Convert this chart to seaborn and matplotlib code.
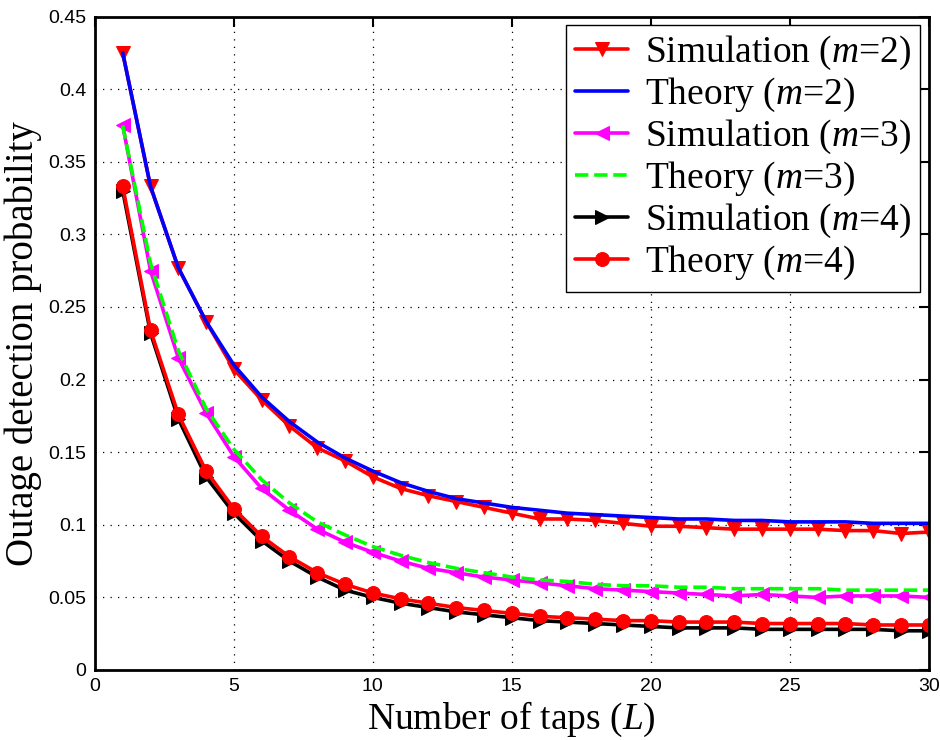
import numpy as np
import pandas as pd
import matplotlib
matplotlib.use("Agg")
import matplotlib.pyplot as plt
import seaborn as sns

L = list(range(1, 31))

sim_m2 = [0.425, 0.333, 0.277, 0.240, 0.207, 0.186, 0.168, 0.153, 0.144, 0.133,
          0.125, 0.120, 0.116, 0.112, 0.108, 0.104, 0.104, 0.103, 0.101, 0.099,
          0.099, 0.098, 0.097, 0.097, 0.097, 0.097, 0.096, 0.096, 0.094, 0.095]
theory_m2 = [0.425, 0.333, 0.277, 0.240, 0.210, 0.188, 0.171, 0.157, 0.146, 0.137,
             0.129, 0.123, 0.118, 0.115, 0.112, 0.110, 0.108, 0.107, 0.106, 0.105,
             0.104, 0.104, 0.103, 0.103, 0.102, 0.102, 0.102, 0.101, 0.101, 0.101]
sim_m3 = [0.375, 0.275, 0.215, 0.177, 0.147, 0.125, 0.110, 0.097, 0.088, 0.081,
          0.075, 0.070, 0.067, 0.064, 0.062, 0.060, 0.058, 0.056, 0.055, 0.054,
          0.053, 0.052, 0.051, 0.052, 0.051, 0.050, 0.051, 0.051, 0.051, 0.050]
theory_m3 = [0.375, 0.280, 0.220, 0.180, 0.152, 0.131, 0.115, 0.102, 0.093, 0.085,
             0.079, 0.074, 0.070, 0.067, 0.064, 0.062, 0.061, 0.059, 0.058, 0.058,
             0.057, 0.057, 0.056, 0.056, 0.056, 0.056, 0.055, 0.055, 0.055, 0.055]
sim_m4 = [0.330, 0.232, 0.173, 0.133, 0.108, 0.089, 0.075, 0.064, 0.055, 0.050,
          0.046, 0.043, 0.040, 0.038, 0.036, 0.034, 0.033, 0.032, 0.031, 0.030,
          0.029, 0.029, 0.029, 0.028, 0.028, 0.028, 0.028, 0.028, 0.027, 0.027]
theory_m4 = [0.333, 0.234, 0.176, 0.137, 0.111, 0.092, 0.078, 0.067, 0.059, 0.053,
             0.049, 0.046, 0.043, 0.041, 0.039, 0.037, 0.036, 0.035, 0.034, 0.034,
             0.033, 0.033, 0.033, 0.032, 0.032, 0.032, 0.032, 0.031, 0.031, 0.031]

labels = ["Simulation ($m$=2)", "Theory ($m$=2)", "Simulation ($m$=3)",
          "Theory ($m$=3)", "Simulation ($m$=4)", "Theory ($m$=4)"]
series = [sim_m2, theory_m2, sim_m3, theory_m3, sim_m4, theory_m4]

x_ticks = [0, 5, 10, 15, 20, 25, 30]
y_ticks = [0, 0.05, 0.1, 0.15, 0.2, 0.25, 0.3, 0.35, 0.4, 0.45]
y_ticklabels = ["0", "0.05", "0.1", "0.15", "0.2", "0.25", "0.3", "0.35", "0.4", "0.45"]

sns.set_theme(style="white")
plt.rcParams["mathtext.fontset"] = "custom"
plt.rcParams["mathtext.it"] = "Liberation Serif:italic"
plt.rcParams["mathtext.rm"] = "Liberation Serif"
plt.rcParams["text.color"] = "black"
plt.rcParams["axes.labelcolor"] = "black"
plt.rcParams["xtick.color"] = "black"
plt.rcParams["ytick.color"] = "black"

fig = plt.figure(figsize=(9.4, 7.4), dpi=100)
ax = fig.add_axes([0.101, 0.0946, 0.887, 0.883])

styles = [
    dict(color="#ff0000", marker="v", linestyle="-", markersize=10.5),
    dict(color="#0000ff", marker=None, linestyle="-", markersize=0),
    dict(color="#ff00ff", marker="<", linestyle="-", markersize=10.5),
    dict(color="#00ff00", marker=None, linestyle="--", markersize=0),
    dict(color="#000000", marker=">", linestyle="-", markersize=10.5),
    dict(color="#ff0000", marker="o", linestyle="-", markersize=10),
]

for lab, vals, st in zip(labels, series, styles):
    df = pd.DataFrame({"L": L, "P": vals})
    kw = dict(color=st["color"], linestyle=st["linestyle"], linewidth=2.6, label=lab)
    if st["marker"]:
        kw.update(marker=st["marker"], markersize=st["markersize"],
                  markeredgecolor=st["color"], markerfacecolor=st["color"])
    else:
        if st["linestyle"] == "--":
            kw.update(dashes=(3.5, 3.0))
    sns.lineplot(data=df, x="L", y="P", ax=ax, **kw)

ax.set_xlim(0, 30)
ax.set_ylim(0, 0.45)
ax.set_xticks(x_ticks)
ax.set_yticks(y_ticks)
ax.set_yticklabels(y_ticklabels)
ax.tick_params(direction="in", length=7, width=1.5, top=True, right=True,
               labelsize=14, pad=6, colors="black", labelcolor="black")
for lab in ax.get_xticklabels() + ax.get_yticklabels():
    lab.set_family("Liberation Sans")
ax.grid(True, color="black", linestyle=(0, (1, 5)), linewidth=0.9)
for sp in ax.spines.values():
    sp.set_linewidth(2.0)
    sp.set_color("black")

ax.set_xlabel("Number of taps ($L$)", fontsize=27, family="Liberation Serif",
              labelpad=3, color="black")
ax.set_ylabel("Outage detection probability", fontsize=28, family="Liberation Serif",
              labelpad=5, color="black")

leg = ax.legend(loc="upper right", prop={"family": "Liberation Serif", "size": 27},
                frameon=True, fancybox=False, edgecolor="black", framealpha=1,
                handlelength=1.4, labelspacing=0.1, borderpad=0.25, handletextpad=0.45,
                borderaxespad=0.22, labelcolor="black")
leg.get_frame().set_linewidth(1.0)

fig.savefig("out.png", dpi=100)
